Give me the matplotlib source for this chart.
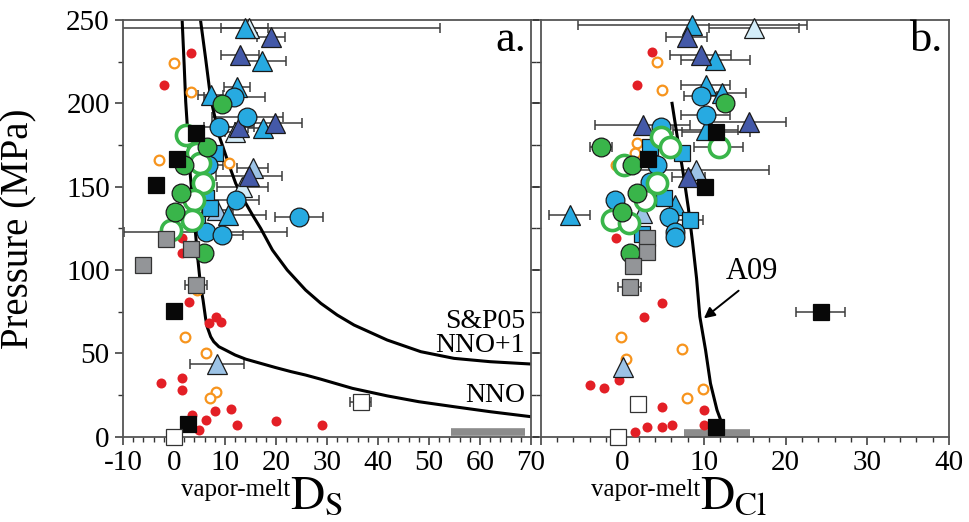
import numpy as np
import matplotlib
matplotlib.use('Agg')
from matplotlib import pyplot as plt
from matplotlib.ticker import MultipleLocator, FuncFormatter

plt.rcParams['font.family'] = ['Liberation Serif', 'DejaVu Serif']
plt.rcParams['mathtext.fontset'] = 'stix'
plt.rcParams['axes.unicode_minus'] = False

# ---------------- panel a: vapor-melt D_S ----------------
s_red_x = [3.3, -2.0, 1.5, 1.6, 2.9, 8.3, 6.9, 9.3, -2.5, 1.5, 1.5, 3.6, 6.2, 8.0, 11.1, 12.4, 20.1, 29.1, 5.0]
s_red_p = [230, 211, 119, 110, 81, 72, 68, 69, 32.5, 35.4, 28, 13, 10, 15.5, 16.7, 7, 9.3, 7, 4.2]

s_orange_x = [0.0, 3.3, -2.9, 10.7, 2.2, 6.2, 8.2, 7.0, 4.5]
s_orange_p = [224, 207, 166, 164, 60, 50, 26.6, 23.4, 88]

s_green_x = [9.5, 6.5, 2.0, 1.3, 0.2, 5.9]
s_green_p = [199.5, 174, 163, 146, 135, 110]

s_greenopen_x = [2.4, 4.5, 5.2, 5.6, 4.0, 3.5, -0.6]
s_greenopen_p = [181, 170, 164, 152, 142, 130, 124]

s_bluecirc_x = [11.8, 14.4, 8.9, 6.7, 12.1, 24.6, 6.2, 9.5]
s_bluecirc_p = [204, 192, 185.6, 163, 142, 132, 123, 121]
s_bluecirc_e = [6, 7, 3, 3, 4.5, 4.7, 16, 4]

s_bluesq_x = [8.0, 6.3, 4.5, 7.0]
s_bluesq_p = [170, 143, 130, 137]

s_bluetri_x = [13.9, 17.3, 7.2, 12.4, 17.5, 10.5]
s_bluetri_p = [245, 225.4, 205, 209.6, 185, 133]
s_bluetri_e = [4.6, 4.6, 2.5, 2.6, 3, 7.5]

s_darktri_x = [19.0, 12.9, 12.7, 19.9, 14.7]
s_darktri_p = [239.6, 229, 186, 188.4, 156.4]
s_darktri_e = [2.8, 3.7, 3, 5.2, 6.5]

s_lighttri_x = [15.4, 8.5, 8.4]
s_lighttri_p = [161, 136, 43.6]
s_lighttri_e = [3, 3, 5.3]

s_palettri_x = [14.7, 13.4, 12.0]
s_palettri_p = [245, 150, 183]
s_palettri_e = [37.5, 5, 2]

s_blacksq_x = [4.3, 0.6, -3.5, 0.0, 2.8]
s_blacksq_p = [182, 166.5, 151, 75.6, 7.6]

s_graysq_x = [-1.6, 3.3, -6.0, 4.3]
s_graysq_p = [118.5, 112.4, 103, 91]
s_graysq_e = [0, 0, 0, 2.2]

s_whitesq_x = [36.6, 0.1]
s_whitesq_p = [21, 0]
s_whitesq_e = [2, 0]

nno_x = [1.6, 2.0, 2.3, 2.6, 3.2, 4.0, 4.6, 5.2, 5.7, 6.2, 6.5, 7.2, 7.8, 8.8, 10.1, 12.0, 14.1,
         17.0, 19.9, 23.0, 25.8, 28.8, 35.0, 41.8, 48.0, 54.9, 62.0, 70.0]
nno_p = [250, 223, 201, 187, 157, 130, 109, 91, 82, 71, 66, 60, 57, 54, 52, 49, 46.5,
         44, 41.5, 39, 37, 34.5, 29, 24.5, 21, 18, 15, 12]

sp05_x = [5.2, 6.2, 7.2, 8.8, 10.8, 12.1, 13.7, 15.4, 17.0, 19.3, 22.2, 25.8, 28.8, 32.0, 35.3,
          41.8, 48.4, 54.9, 62.0, 70.0]
sp05_p = [250, 227, 203, 181, 163, 152, 142, 133, 125, 112, 100, 88, 80, 73, 67,
          58, 51, 47, 45, 43.6]

s_bar_x = [54.3, 68.8]
s_bar_p = [2.6, 2.6]

# ---------------- panel b: vapor-melt D_Cl ----------------
c_red_x = [3.6, 1.8, -0.7, 4.9, 2.7, -3.9, -2.2, -0.4, 4.9, 10.0, 10.0, 6.1, 4.9, 3.0, 1.6]
c_red_p = [231, 211, 119, 80, 72, 31, 29, 34, 18, 16, 7, 7, 6, 6, 3]

c_orange_x = [4.3, 4.9, 1.8, 1.6, -0.7, -0.2, 7.3, 0.5, 9.9, 7.9]
c_orange_p = [225, 208, 176, 170, 163, 60, 52.6, 46.6, 28.4, 23.4]

c_green_x = [12.6, -2.6, 1.2, 1.8, 0.0, 1.0]
c_green_p = [200, 174, 163, 146, 135, 110]
c_green_e = [0, 1.4, 0, 0, 0, 0]

c_greenopen_x = [4.7, 5.9, 11.8, 0.2, 4.3, 2.8, -1.3, 0.8]
c_greenopen_p = [180, 173.6, 174, 163, 152, 142, 130, 128]
c_greenopen_e = [0, 0, 3, 0, 0, 0, 0, 0]

c_bluecirc_x = [9.6, 10.2, 4.7, 4.3, 3.4, -0.9, 5.7, 6.5, 6.5]
c_bluecirc_p = [204.6, 193, 186, 163, 153, 142, 132, 123, 120]
c_bluecirc_e = [2, 3, 0, 0, 0, 0, 0, 0, 0]

c_bluesq_x = [5.1, 8.3, 2.4, 3.4, 7.3]
c_bluesq_p = [143, 130, 121.4, 174, 170]
c_bluesq_e = [0, 1.6, 0, 0, 0]

c_bluetri_x = [8.6, 11.4, 10.2, 12.2, 10.2, -6.4, 6.5]
c_bluetri_p = [247, 226, 211, 206, 184, 133, 139]
c_bluetri_e = [14, 4.2, 3, 3, 4, 2.5, 0]

c_darktri_x = [7.9, 9.6, 2.5, 15.5, 8.1]
c_darktri_p = [240, 229, 187, 189, 156]
c_darktri_e = [2.5, 3.7, 5.8, 4.5, 2]

c_lighttri_x = [9.0, 2.4, 0.1]
c_lighttri_p = [160, 134, 42]
c_lighttri_e = [9, 0, 0]

c_palettri_x = [16.1]
c_palettri_p = [245]
c_palettri_e = [5.5]

c_blacksq_x = [11.5, 3.1, 10.1, 24.3, 11.5]
c_blacksq_p = [182.6, 166.6, 150, 75, 6]
c_blacksq_e = [4.2, 0, 0, 3, 0]

c_graysq_x = [3.0, 3.0, 1.3, 0.9]
c_graysq_p = [119, 111, 102.4, 89.6]
c_graysq_e = [0, 0, 0, 1.4]

c_whitesq_x = [1.9, -0.5]
c_whitesq_p = [19.6, 0]

a09_x = [6.1, 6.8, 7.5, 8.1, 8.6, 9.1, 9.5, 10.2, 10.8, 11.6, 12.2]
a09_p = [200, 178, 157, 137, 117, 95, 72, 52, 32, 16, 8]

c_bar_x = [7.6, 15.6]
c_bar_p = [2.4, 2.4]

# ---------------- styles ----------------
RED = '#e31f26'
ORANGE = '#f7941d'
GREEN = '#39b54a'
BLUE = '#27aae1'
DARK = '#4459a8'
LIGHT = '#9cc3e6'
PALE = '#d3ecf8'
GRAY = '#939598'

st_red = dict(marker='o', ms=7.2, mfc=RED, mec=RED, mew=0)
st_orange = dict(marker='o', ms=7.0, mfc='white', mec=ORANGE, mew=1.6)
st_green = dict(marker='o', ms=13.5, mfc=GREEN, mec='#1a1a1a', mew=0.9)
st_greenopen = dict(marker='o', ms=14.5, mfc='white', mec=GREEN, mew=2.6)
st_bluecirc = dict(marker='o', ms=13.5, mfc=BLUE, mec='#1a1a1a', mew=0.9)
st_bluesq = dict(marker='s', ms=12, mfc=BLUE, mec='#1a1a1a', mew=0.9)
st_bluetri = dict(marker='^', ms=15, mfc=BLUE, mec='#1a1a1a', mew=0.9)
st_darktri = dict(marker='^', ms=15, mfc=DARK, mec='#1a1a1a', mew=0.9)
st_lighttri = dict(marker='^', ms=15, mfc=LIGHT, mec='#1a1a1a', mew=0.9)
st_palettri = dict(marker='^', ms=15, mfc=PALE, mec='#1a1a1a', mew=0.9)
st_blacksq = dict(marker='s', ms=12, mfc='#080808', mec='#080808', mew=0.9)
st_graysq = dict(marker='s', ms=12, mfc=GRAY, mec='#333333', mew=0.9)
st_whitesq = dict(marker='s', ms=12, mfc='white', mec='#333333', mew=0.9)


def draw(ax, x, p, style, xerr=None, z=3):
    if xerr is not None:
        xe = [x[i] for i in range(len(x)) if xerr[i] > 0]
        pe = [p[i] for i in range(len(x)) if xerr[i] > 0]
        ee = [e for e in xerr if e > 0]
        if len(ee) > 0:
            ax.errorbar(xe, pe, xerr=ee, fmt='none', ecolor='#3c3c3c', elinewidth=1.1,
                        capsize=3.5, capthick=1.1, zorder=2)
    ax.plot(x, p, linestyle='none', zorder=z, clip_on=False, **style)


def setup(ax, xmin, xmax):
    ax.set_xlim(xmin, xmax)
    ax.set_ylim(0, 250)
    ax.xaxis.set_major_locator(MultipleLocator(10))
    ax.xaxis.set_minor_locator(MultipleLocator(2))
    ax.yaxis.set_major_locator(MultipleLocator(50))
    ax.yaxis.set_minor_locator(MultipleLocator(25))
    ax.tick_params(which='major', direction='out', length=6, width=1.1, labelsize=21, colors='#333333',
                   labelcolor='black')
    ax.tick_params(which='minor', direction='out', length=3.5, width=1, colors='#333333')
    for sp in ax.spines.values():
        sp.set_color('#555555')
        sp.set_linewidth(1.3)


fig = plt.figure(figsize=(9.69, 5.22), dpi=100)
axL = fig.add_axes([0.1269, 0.1634, 0.4211, 0.7983])
axR = fig.add_axes([0.5578, 0.1634, 0.4216, 0.7983])

setup(axL, -10, 70)
setup(axR, -10, 40)
axL.tick_params(which='both', right=True)
axR.tick_params(which='both', labelleft=False)
axR.xaxis.set_major_formatter(FuncFormatter(lambda v, pos: '' if v < 0 else '%d' % v))
axL.set_ylabel('Pressure (MPa)', fontsize=28)
axL.yaxis.set_label_coords(-0.21, 0.5)

# curves
axL.plot(nno_x, nno_p, color='black', lw=2.2, zorder=2.5)
axL.plot(sp05_x, sp05_p, color='black', lw=2.2, zorder=2.5)
axR.plot(a09_x, a09_p, color='black', lw=2.2, zorder=2.5)
axL.plot(s_bar_x, s_bar_p, color='#8c8c8c', lw=5.5, solid_capstyle='butt', zorder=2)
axR.plot(c_bar_x, c_bar_p, color='#8c8c8c', lw=5.5, solid_capstyle='butt', zorder=2)

# panel a symbols
draw(axL, s_red_x, s_red_p, st_red)
draw(axL, s_orange_x, s_orange_p, st_orange)
draw(axL, s_palettri_x, s_palettri_p, st_palettri, s_palettri_e)
draw(axL, s_lighttri_x, s_lighttri_p, st_lighttri, s_lighttri_e)
draw(axL, s_bluetri_x, s_bluetri_p, st_bluetri, s_bluetri_e)
draw(axL, s_darktri_x, s_darktri_p, st_darktri, s_darktri_e)
draw(axL, s_bluesq_x, s_bluesq_p, st_bluesq)
draw(axL, s_bluecirc_x, s_bluecirc_p, st_bluecirc, s_bluecirc_e)
draw(axL, s_greenopen_x, s_greenopen_p, st_greenopen)
draw(axL, s_green_x, s_green_p, st_green)
draw(axL, s_graysq_x, s_graysq_p, st_graysq, s_graysq_e)
draw(axL, s_blacksq_x, s_blacksq_p, st_blacksq)
draw(axL, s_whitesq_x, s_whitesq_p, st_whitesq, s_whitesq_e)

# panel b symbols
draw(axR, c_red_x, c_red_p, st_red)
draw(axR, c_orange_x, c_orange_p, st_orange)
draw(axR, c_palettri_x, c_palettri_p, st_palettri, c_palettri_e)
draw(axR, c_lighttri_x, c_lighttri_p, st_lighttri, c_lighttri_e)
draw(axR, c_bluetri_x, c_bluetri_p, st_bluetri, c_bluetri_e)
draw(axR, c_darktri_x, c_darktri_p, st_darktri, c_darktri_e)
draw(axR, c_bluesq_x, c_bluesq_p, st_bluesq, c_bluesq_e)
draw(axR, c_bluecirc_x, c_bluecirc_p, st_bluecirc, c_bluecirc_e)
draw(axR, c_greenopen_x, c_greenopen_p, st_greenopen, c_greenopen_e)
draw(axR, c_green_x, c_green_p, st_green, c_green_e)
draw(axR, c_graysq_x, c_graysq_p, st_graysq, c_graysq_e)
draw(axR, c_blacksq_x, c_blacksq_p, st_blacksq, c_blacksq_e)
draw(axR, c_whitesq_x, c_whitesq_p, st_whitesq)

# annotations
axL.text(69, 238, 'a.', fontsize=32, ha='right', va='center')
axR.text(39.3, 238, 'b.', fontsize=32, ha='right', va='center')
axL.text(68.8, 62, 'S&P05\nNNO+1', fontsize=20, ha='right', va='center', multialignment='right',
         linespacing=0.95)
axL.text(68.8, 24.5, 'NNO', fontsize=20, ha='right', va='center')
axR.annotate('A09', xy=(10.0, 71), xytext=(15.9, 99), fontsize=22, ha='center', va='center',
             arrowprops=dict(arrowstyle='-|>', color='black', lw=1.4, mutation_scale=16,
                             shrinkA=2, shrinkB=0, relpos=(0.35, 0.0)))

# axis labels built from small superscript plus big D
axL.text(0.409, -0.142, 'vapor-melt', transform=axL.transAxes, fontsize=18, ha='right', va='baseline')
axL.text(0.409, -0.172, r'$\mathrm{D}_{\mathrm{S}}$', transform=axL.transAxes, fontsize=34,
         ha='left', va='baseline')
axR.text(0.39, -0.142, 'vapor-melt', transform=axR.transAxes, fontsize=18, ha='right', va='baseline')
axR.text(0.39, -0.172, r'$\mathrm{D}_{\mathrm{Cl}}$', transform=axR.transAxes, fontsize=34,
         ha='left', va='baseline')

fig.savefig('out.png', dpi=100)
